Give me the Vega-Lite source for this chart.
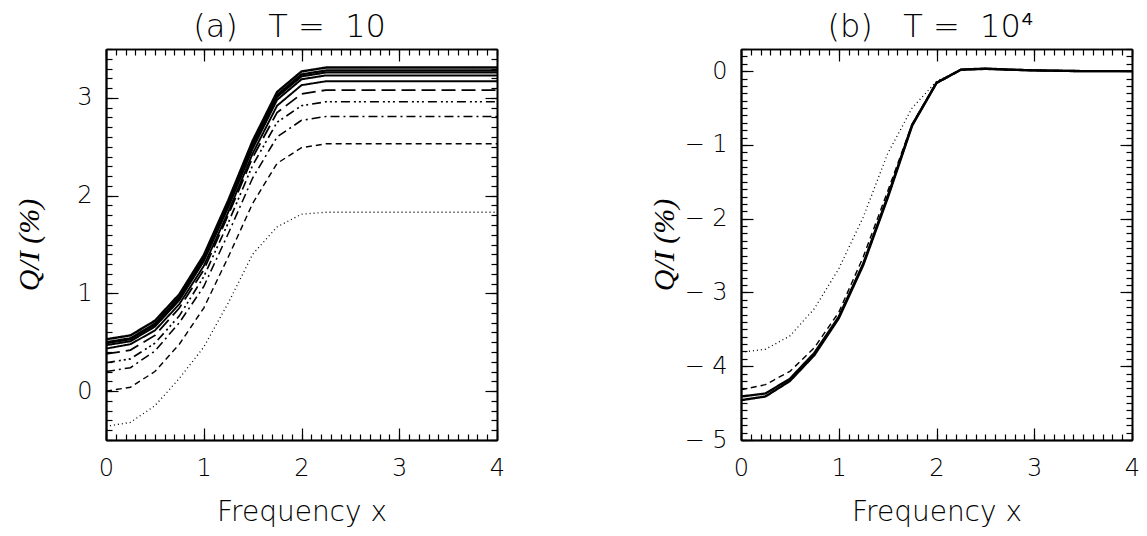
{
  "$schema": "https://vega.github.io/schema/vega-lite/v6.json",
  "padding": {"left": 14, "top": 11, "right": 5, "bottom": 5},
  "background": "white",
  "config": {
    "view": {"stroke": null},
    "axis": {"domainColor": "black", "domainWidth": 1.6, "tickColor": "black", "tickWidth": 1.2, "grid": false,
      "labelFont": "DejaVu Sans", "labelFontWeight": 200, "labelFontSize": 24, "labelColor": "black",
      "titleFont": "DejaVu Sans", "titleFontWeight": 200, "titleColor": "black", "labelOverlap": false, "labelFlush": false, "labelBound": false}
  },
  "datasets": {
    "a": [
      {"s":"c1","x":0,"v":-0.36},{"s":"c1","x":0.25,"v":-0.32},{"s":"c1","x":0.5,"v":-0.15},{"s":"c1","x":0.75,"v":0.13},{"s":"c1","x":1,"v":0.45},{"s":"c1","x":1.25,"v":0.9},{"s":"c1","x":1.5,"v":1.4},{"s":"c1","x":1.75,"v":1.68},{"s":"c1","x":2,"v":1.81},{"s":"c1","x":2.25,"v":1.83},{"s":"c1","x":2.5,"v":1.83},{"s":"c1","x":3,"v":1.83},{"s":"c1","x":3.5,"v":1.83},{"s":"c1","x":4,"v":1.83},
      {"s":"c2","x":0,"v":0.0},{"s":"c2","x":0.25,"v":0.04},{"s":"c2","x":0.5,"v":0.2},{"s":"c2","x":0.75,"v":0.48},{"s":"c2","x":1,"v":0.85},{"s":"c2","x":1.25,"v":1.37},{"s":"c2","x":1.5,"v":1.92},{"s":"c2","x":1.75,"v":2.33},{"s":"c2","x":2,"v":2.49},{"s":"c2","x":2.25,"v":2.53},{"s":"c2","x":2.5,"v":2.53},{"s":"c2","x":3,"v":2.53},{"s":"c2","x":3.5,"v":2.53},{"s":"c2","x":4,"v":2.53},
      {"s":"c3","x":0,"v":0.2},{"s":"c3","x":0.25,"v":0.24},{"s":"c3","x":0.5,"v":0.41},{"s":"c3","x":0.75,"v":0.7},{"s":"c3","x":1,"v":1.07},{"s":"c3","x":1.25,"v":1.61},{"s":"c3","x":1.5,"v":2.18},{"s":"c3","x":1.75,"v":2.6},{"s":"c3","x":2,"v":2.77},{"s":"c3","x":2.25,"v":2.81},{"s":"c3","x":2.5,"v":2.81},{"s":"c3","x":3,"v":2.81},{"s":"c3","x":3.5,"v":2.81},{"s":"c3","x":4,"v":2.81},
      {"s":"c4","x":0,"v":0.29},{"s":"c4","x":0.25,"v":0.33},{"s":"c4","x":0.5,"v":0.49},{"s":"c4","x":0.75,"v":0.77},{"s":"c4","x":1,"v":1.17},{"s":"c4","x":1.25,"v":1.72},{"s":"c4","x":1.5,"v":2.31},{"s":"c4","x":1.75,"v":2.75},{"s":"c4","x":2,"v":2.92},{"s":"c4","x":2.25,"v":2.96},{"s":"c4","x":2.5,"v":2.96},{"s":"c4","x":3,"v":2.96},{"s":"c4","x":3.5,"v":2.96},{"s":"c4","x":4,"v":2.96},
      {"s":"c5","x":0,"v":0.38},{"s":"c5","x":0.25,"v":0.42},{"s":"c5","x":0.5,"v":0.57},{"s":"c5","x":0.75,"v":0.85},{"s":"c5","x":1,"v":1.24},{"s":"c5","x":1.25,"v":1.8},{"s":"c5","x":1.5,"v":2.39},{"s":"c5","x":1.75,"v":2.85},{"s":"c5","x":2,"v":3.04},{"s":"c5","x":2.25,"v":3.08},{"s":"c5","x":2.5,"v":3.08},{"s":"c5","x":3,"v":3.08},{"s":"c5","x":3.5,"v":3.08},{"s":"c5","x":4,"v":3.08},
      {"s":"c6","x":0,"v":0.435},{"s":"c6","x":0.25,"v":0.48},{"s":"c6","x":0.5,"v":0.62},{"s":"c6","x":0.75,"v":0.89},{"s":"c6","x":1,"v":1.28},{"s":"c6","x":1.25,"v":1.83},{"s":"c6","x":1.5,"v":2.43},{"s":"c6","x":1.75,"v":2.92},{"s":"c6","x":2,"v":3.13},{"s":"c6","x":2.25,"v":3.17},{"s":"c6","x":2.5,"v":3.17},{"s":"c6","x":3,"v":3.17},{"s":"c6","x":3.5,"v":3.17},{"s":"c6","x":4,"v":3.17},
      {"s":"c7","x":0,"v":0.47},{"s":"c7","x":0.25,"v":0.51},{"s":"c7","x":0.5,"v":0.66},{"s":"c7","x":0.75,"v":0.93},{"s":"c7","x":1,"v":1.33},{"s":"c7","x":1.25,"v":1.88},{"s":"c7","x":1.5,"v":2.48},{"s":"c7","x":1.75,"v":2.98},{"s":"c7","x":2,"v":3.19},{"s":"c7","x":2.25,"v":3.23},{"s":"c7","x":2.5,"v":3.23},{"s":"c7","x":3,"v":3.23},{"s":"c7","x":3.5,"v":3.23},{"s":"c7","x":4,"v":3.23},
      {"s":"c8","x":0,"v":0.49},{"s":"c8","x":0.25,"v":0.53},{"s":"c8","x":0.5,"v":0.68},{"s":"c8","x":0.75,"v":0.95},{"s":"c8","x":1,"v":1.35},{"s":"c8","x":1.25,"v":1.9},{"s":"c8","x":1.5,"v":2.51},{"s":"c8","x":1.75,"v":3.01},{"s":"c8","x":2,"v":3.22},{"s":"c8","x":2.25,"v":3.26},{"s":"c8","x":2.5,"v":3.26},{"s":"c8","x":3,"v":3.26},{"s":"c8","x":3.5,"v":3.26},{"s":"c8","x":4,"v":3.26},
      {"s":"c9","x":0,"v":0.5},{"s":"c9","x":0.25,"v":0.54},{"s":"c9","x":0.5,"v":0.69},{"s":"c9","x":0.75,"v":0.96},{"s":"c9","x":1,"v":1.36},{"s":"c9","x":1.25,"v":1.92},{"s":"c9","x":1.5,"v":2.53},{"s":"c9","x":1.75,"v":3.03},{"s":"c9","x":2,"v":3.24},{"s":"c9","x":2.25,"v":3.28},{"s":"c9","x":2.5,"v":3.28},{"s":"c9","x":3,"v":3.28},{"s":"c9","x":3.5,"v":3.28},{"s":"c9","x":4,"v":3.28},
      {"s":"c10","x":0,"v":0.53},{"s":"c10","x":0.25,"v":0.57},{"s":"c10","x":0.5,"v":0.72},{"s":"c10","x":0.75,"v":0.99},{"s":"c10","x":1,"v":1.39},{"s":"c10","x":1.25,"v":1.95},{"s":"c10","x":1.5,"v":2.56},{"s":"c10","x":1.75,"v":3.06},{"s":"c10","x":2,"v":3.27},{"s":"c10","x":2.25,"v":3.31},{"s":"c10","x":2.5,"v":3.31},{"s":"c10","x":3,"v":3.31},{"s":"c10","x":3.5,"v":3.31},{"s":"c10","x":4,"v":3.31}
    ],
    "b": [
      {"s":"c1","x":0,"v":-3.81},{"s":"c1","x":0.25,"v":-3.77},{"s":"c1","x":0.5,"v":-3.59},{"s":"c1","x":0.75,"v":-3.22},{"s":"c1","x":1,"v":-2.68},{"s":"c1","x":1.25,"v":-1.98},{"s":"c1","x":1.5,"v":-1.12},{"s":"c1","x":1.75,"v":-0.5},{"s":"c1","x":2,"v":-0.14},{"s":"c1","x":2.25,"v":0.02},{"s":"c1","x":2.5,"v":0.03},{"s":"c1","x":2.75,"v":0.02},{"s":"c1","x":3,"v":0.01},{"s":"c1","x":3.5,"v":0.0},{"s":"c1","x":4,"v":0.0},
      {"s":"c2","x":0,"v":-4.32},{"s":"c2","x":0.25,"v":-4.25},{"s":"c2","x":0.5,"v":-4.07},{"s":"c2","x":0.75,"v":-3.75},{"s":"c2","x":1,"v":-3.27},{"s":"c2","x":1.25,"v":-2.52},{"s":"c2","x":1.5,"v":-1.63},{"s":"c2","x":1.75,"v":-0.72},{"s":"c2","x":2,"v":-0.15},{"s":"c2","x":2.25,"v":0.02},{"s":"c2","x":2.5,"v":0.03},{"s":"c2","x":2.75,"v":0.02},{"s":"c2","x":3,"v":0.01},{"s":"c2","x":3.5,"v":0.0},{"s":"c2","x":4,"v":0.0},
      {"s":"c9","x":0,"v":-4.41},{"s":"c9","x":0.25,"v":-4.37},{"s":"c9","x":0.5,"v":-4.17},{"s":"c9","x":0.75,"v":-3.82},{"s":"c9","x":1,"v":-3.33},{"s":"c9","x":1.25,"v":-2.61},{"s":"c9","x":1.5,"v":-1.7},{"s":"c9","x":1.75,"v":-0.73},{"s":"c9","x":2,"v":-0.16},{"s":"c9","x":2.25,"v":0.02},{"s":"c9","x":2.5,"v":0.03},{"s":"c9","x":2.75,"v":0.02},{"s":"c9","x":3,"v":0.01},{"s":"c9","x":3.5,"v":0.0},{"s":"c9","x":4,"v":0.0},
      {"s":"c10","x":0,"v":-4.46},{"s":"c10","x":0.25,"v":-4.41},{"s":"c10","x":0.5,"v":-4.2},{"s":"c10","x":0.75,"v":-3.85},{"s":"c10","x":1,"v":-3.35},{"s":"c10","x":1.25,"v":-2.63},{"s":"c10","x":1.5,"v":-1.72},{"s":"c10","x":1.75,"v":-0.74},{"s":"c10","x":2,"v":-0.16},{"s":"c10","x":2.25,"v":0.02},{"s":"c10","x":2.5,"v":0.035},{"s":"c10","x":2.75,"v":0.02},{"s":"c10","x":3,"v":0.01},{"s":"c10","x":3.5,"v":0.0},{"s":"c10","x":4,"v":0.0}
    ]
  },
  "hconcat": [
    {
      "width": 391, "height": 391,
      "data": {"name": "a"},
      "title": {"text": "(a)\u00a0\u00a0\u00a0T\u00a0=\u00a0\u00a010", "font": "DejaVu Sans", "fontWeight": 200, "fontSize": 32, "color": "black", "anchor": "middle", "frame": "group", "offset": 4, "dx": -12},
      "layer": [
        {
          "mark": {"type": "line", "color": "black", "clip": true},
          "encoding": {
            "x": {"field": "x", "type": "quantitative", "scale": {"domain": [0, 4], "nice": false, "zero": false},
              "axis": {"orient": "bottom", "values": [0,1,2,3,4], "format": "d", "ticks": false, "labelPadding": 16, "title": "Frequency x", "titleFontSize": 28, "titlePadding": 18}},
            "y": {"field": "v", "type": "quantitative", "scale": {"domain": [-0.5, 3.5], "nice": false, "zero": false},
              "axis": {"orient": "left", "values": [0,1,2,3], "format": "d", "ticks": false, "labelPadding": 14,
                "title": "Q/I (%)", "titleFont": "Liberation Serif", "titleFontStyle": "italic", "titleFontWeight": "normal", "titleFontSize": 30, "titleX": -77, "titleBaseline": "middle", "titleAngle": -90}},
            "detail": {"field": "s"},
            "strokeDash": {"field": "s", "type": "nominal", "legend": null, "scale": {"domain": ["c1","c2","c3","c4","c5","c6","c7","c8","c9","c10"], "range": [[1,3],[6,4],[9,4,2,4],[9,4,2,3,2,3,2,4],[14,6],[1,0],[1,0],[1,0],[1,0],[1,0]]}},
            "strokeWidth": {"field": "s", "type": "ordinal", "legend": null, "scale": {"domain": ["c1","c2","c3","c4","c5","c6","c7","c8","c9","c10"], "range": [1.3,2.4,2.4,2.4,2.4,1,1,1,1,3]}}
          }
        },
        {
          "mark": {"type": "line", "opacity": 0},
          "encoding": {
            "x": {"field": "x", "type": "quantitative", "scale": {"domain": [0, 4], "nice": false, "zero": false},
              "axis": {"orient": "bottom", "labels": false, "title": null, "values": [0,1,2,3,4], "tickSize": -12}},
            "y": {"field": "v", "type": "quantitative", "scale": {"domain": [-0.5, 3.5], "nice": false, "zero": false},
              "axis": {"orient": "left", "labels": false, "title": null, "values": [0,1,2,3], "tickSize": -12}},
            "detail": {"field": "s"}
          }
        },
        {
          "mark": {"type": "line", "opacity": 0},
          "encoding": {
            "x": {"field": "x", "type": "quantitative", "scale": {"domain": [0, 4], "nice": false, "zero": false},
              "axis": {"orient": "bottom", "labels": false, "title": null, "tickSize": -6, "values": [0,0.1,0.2,0.3,0.4,0.5,0.6,0.7,0.8,0.9,1,1.1,1.2,1.3,1.4,1.5,1.6,1.7,1.8,1.9,2,2.1,2.2,2.3,2.4,2.5,2.6,2.7,2.8,2.9,3,3.1,3.2,3.3,3.4,3.5,3.6,3.7,3.8,3.9,4]}},
            "y": {"field": "v", "type": "quantitative", "scale": {"domain": [-0.5, 3.5], "nice": false, "zero": false},
              "axis": {"orient": "left", "labels": false, "title": null, "tickSize": -6, "values": [-0.5,-0.4,-0.3,-0.2,-0.1,0,0.1,0.2,0.3,0.4,0.5,0.6,0.7,0.8,0.9,1,1.1,1.2,1.3,1.4,1.5,1.6,1.7,1.8,1.9,2,2.1,2.2,2.3,2.4,2.5,2.6,2.7,2.8,2.9,3,3.1,3.2,3.3,3.4,3.5]}},
            "detail": {"field": "s"}
          }
        },
        {
          "mark": {"type": "line", "opacity": 0},
          "encoding": {
            "x": {"field": "x", "type": "quantitative", "scale": {"domain": [0, 4], "nice": false, "zero": false},
              "axis": {"orient": "top", "labels": false, "title": null, "values": [0,1,2,3,4], "tickSize": -12}},
            "y": {"field": "v", "type": "quantitative", "scale": {"domain": [-0.5, 3.5], "nice": false, "zero": false},
              "axis": {"orient": "right", "labels": false, "title": null, "values": [0,1,2,3], "tickSize": -12}},
            "detail": {"field": "s"}
          }
        },
        {
          "mark": {"type": "line", "opacity": 0},
          "encoding": {
            "x": {"field": "x", "type": "quantitative", "scale": {"domain": [0, 4], "nice": false, "zero": false},
              "axis": {"orient": "top", "labels": false, "title": null, "tickSize": -6, "values": [0,0.1,0.2,0.3,0.4,0.5,0.6,0.7,0.8,0.9,1,1.1,1.2,1.3,1.4,1.5,1.6,1.7,1.8,1.9,2,2.1,2.2,2.3,2.4,2.5,2.6,2.7,2.8,2.9,3,3.1,3.2,3.3,3.4,3.5,3.6,3.7,3.8,3.9,4]}},
            "y": {"field": "v", "type": "quantitative", "scale": {"domain": [-0.5, 3.5], "nice": false, "zero": false},
              "axis": {"orient": "right", "labels": false, "title": null, "tickSize": -6, "values": [-0.5,-0.4,-0.3,-0.2,-0.1,0,0.1,0.2,0.3,0.4,0.5,0.6,0.7,0.8,0.9,1,1.1,1.2,1.3,1.4,1.5,1.6,1.7,1.8,1.9,2,2.1,2.2,2.3,2.4,2.5,2.6,2.7,2.8,2.9,3,3.1,3.2,3.3,3.4,3.5]}},
            "detail": {"field": "s"}
          }
        }
      ],
      "resolve": {"axis": {"x": "independent", "y": "independent"}}
    },
    {
      "width": 391, "height": 391,
      "data": {"name": "b"},
      "title": {"text": "(b)\u00a0\u00a0\u00a0T\u00a0=\u00a0\u00a010⁴", "font": "DejaVu Sans", "fontWeight": 200, "fontSize": 32, "color": "black", "anchor": "middle", "frame": "group", "offset": 4, "dx": -6},
      "layer": [
        {
          "mark": {"type": "line", "color": "black", "clip": true},
          "encoding": {
            "x": {"field": "x", "type": "quantitative", "scale": {"domain": [0, 4], "nice": false, "zero": false},
              "axis": {"orient": "bottom", "values": [0,1,2,3,4], "format": "d", "ticks": false, "labelPadding": 16, "title": "Frequency x", "titleFontSize": 28, "titlePadding": 18}},
            "y": {"field": "v", "type": "quantitative", "scale": {"domain": [-5, 0.3], "nice": false, "zero": false},
              "axis": {"orient": "left", "values": [-5,-4,-3,-2,-1,0], "ticks": false, "labelPadding": 14,
                "labelExpr": "datum.value < -0.001 ? '− ' + format(abs(datum.value),'d') : '0'",
                "title": "Q/I (%)", "titleFont": "Liberation Serif", "titleFontStyle": "italic", "titleFontWeight": "normal", "titleFontSize": 30, "titleX": -77, "titleBaseline": "middle", "titleAngle": -90}},
            "detail": {"field": "s"},
            "strokeDash": {"field": "s", "type": "nominal", "legend": null, "scale": {"domain": ["c1","c2","c3","c4","c5","c6","c7","c8","c9","c10"], "range": [[1,3],[6,4],[9,4,2,4],[9,4,2,3,2,3,2,4],[14,6],[1,0],[1,0],[1,0],[1,0],[1,0]]}},
            "strokeWidth": {"field": "s", "type": "ordinal", "legend": null, "scale": {"domain": ["c1","c2","c3","c4","c5","c6","c7","c8","c9","c10"], "range": [1.3,2.4,2.4,2.4,2.4,1,1,1,1,3]}}
          }
        },
        {
          "mark": {"type": "line", "opacity": 0},
          "encoding": {
            "x": {"field": "x", "type": "quantitative", "scale": {"domain": [0, 4], "nice": false, "zero": false},
              "axis": {"orient": "bottom", "labels": false, "title": null, "values": [0,1,2,3,4], "tickSize": -12}},
            "y": {"field": "v", "type": "quantitative", "scale": {"domain": [-5, 0.3], "nice": false, "zero": false},
              "axis": {"orient": "left", "labels": false, "title": null, "values": [-5,-4,-3,-2,-1,0], "tickSize": -12}},
            "detail": {"field": "s"}
          }
        },
        {
          "mark": {"type": "line", "opacity": 0},
          "encoding": {
            "x": {"field": "x", "type": "quantitative", "scale": {"domain": [0, 4], "nice": false, "zero": false},
              "axis": {"orient": "bottom", "labels": false, "title": null, "tickSize": -6, "values": [0,0.1,0.2,0.3,0.4,0.5,0.6,0.7,0.8,0.9,1,1.1,1.2,1.3,1.4,1.5,1.6,1.7,1.8,1.9,2,2.1,2.2,2.3,2.4,2.5,2.6,2.7,2.8,2.9,3,3.1,3.2,3.3,3.4,3.5,3.6,3.7,3.8,3.9,4]}},
            "y": {"field": "v", "type": "quantitative", "scale": {"domain": [-5, 0.3], "nice": false, "zero": false},
              "axis": {"orient": "left", "labels": false, "title": null, "tickSize": -6, "values": [-5,-4.9,-4.8,-4.7,-4.6,-4.5,-4.4,-4.3,-4.2,-4.1,-4,-3.9,-3.8,-3.7,-3.6,-3.5,-3.4,-3.3,-3.2,-3.1,-3,-2.9,-2.8,-2.7,-2.6,-2.5,-2.4,-2.3,-2.2,-2.1,-2,-1.9,-1.8,-1.7,-1.6,-1.5,-1.4,-1.3,-1.2,-1.1,-1,-0.9,-0.8,-0.7,-0.6,-0.5,-0.4,-0.3,-0.2,-0.1,0,0.1,0.2,0.3]}},
            "detail": {"field": "s"}
          }
        },
        {
          "mark": {"type": "line", "opacity": 0},
          "encoding": {
            "x": {"field": "x", "type": "quantitative", "scale": {"domain": [0, 4], "nice": false, "zero": false},
              "axis": {"orient": "top", "labels": false, "title": null, "values": [0,1,2,3,4], "tickSize": -12}},
            "y": {"field": "v", "type": "quantitative", "scale": {"domain": [-5, 0.3], "nice": false, "zero": false},
              "axis": {"orient": "right", "labels": false, "title": null, "values": [-5,-4,-3,-2,-1,0], "tickSize": -12}},
            "detail": {"field": "s"}
          }
        },
        {
          "mark": {"type": "line", "opacity": 0},
          "encoding": {
            "x": {"field": "x", "type": "quantitative", "scale": {"domain": [0, 4], "nice": false, "zero": false},
              "axis": {"orient": "top", "labels": false, "title": null, "tickSize": -6, "values": [0,0.1,0.2,0.3,0.4,0.5,0.6,0.7,0.8,0.9,1,1.1,1.2,1.3,1.4,1.5,1.6,1.7,1.8,1.9,2,2.1,2.2,2.3,2.4,2.5,2.6,2.7,2.8,2.9,3,3.1,3.2,3.3,3.4,3.5,3.6,3.7,3.8,3.9,4]}},
            "y": {"field": "v", "type": "quantitative", "scale": {"domain": [-5, 0.3], "nice": false, "zero": false},
              "axis": {"orient": "right", "labels": false, "title": null, "tickSize": -6, "values": [-5,-4.9,-4.8,-4.7,-4.6,-4.5,-4.4,-4.3,-4.2,-4.1,-4,-3.9,-3.8,-3.7,-3.6,-3.5,-3.4,-3.3,-3.2,-3.1,-3,-2.9,-2.8,-2.7,-2.6,-2.5,-2.4,-2.3,-2.2,-2.1,-2,-1.9,-1.8,-1.7,-1.6,-1.5,-1.4,-1.3,-1.2,-1.1,-1,-0.9,-0.8,-0.7,-0.6,-0.5,-0.4,-0.3,-0.2,-0.1,0,0.1,0.2,0.3]}},
            "detail": {"field": "s"}
          }
        }
      ],
      "resolve": {"axis": {"x": "independent", "y": "independent"}}
    }
  ],
  "spacing": 144
}
